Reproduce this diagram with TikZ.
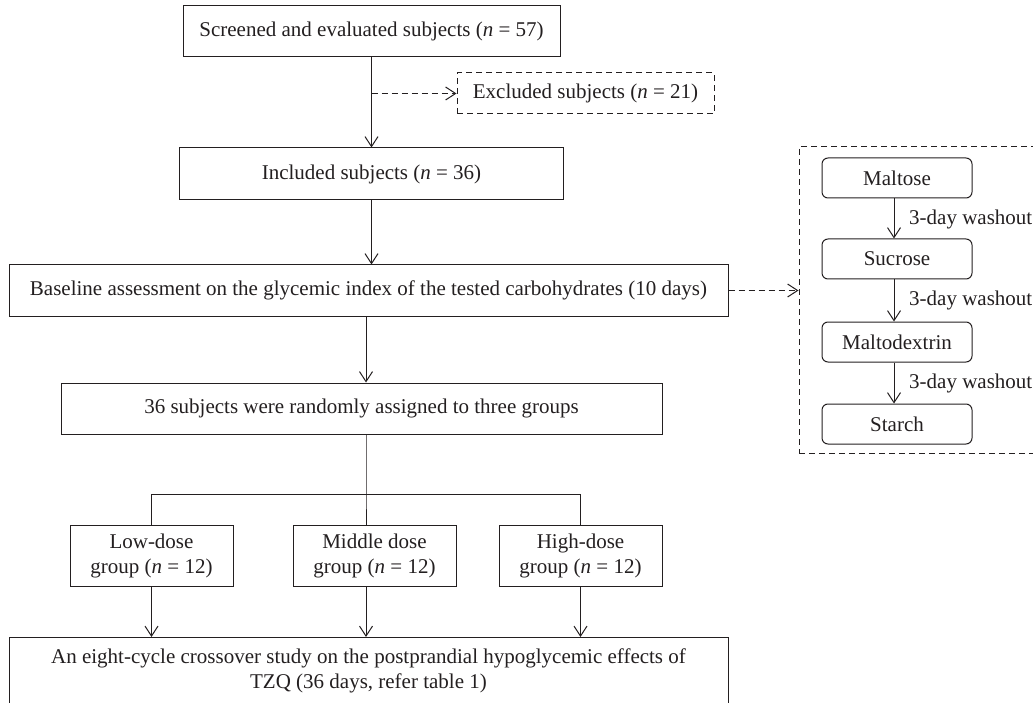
\documentclass[tikz,border=0pt]{standalone}
\usepackage{fontspec}
\setmainfont{Liberation Serif}
\usetikzlibrary{arrows.meta,calc}
\definecolor{ink}{RGB}{35,31,32}
\begin{document}
\begin{tikzpicture}[x=1pt,y=-1pt,
  every node/.style={font=\fontsize{21}{25}\selectfont, text=ink},
  box/.style={draw=ink, line width=1pt, inner sep=0pt, align=center},
  dbox/.style={box, dash pattern=on 6pt off 4pt},
  rbox/.style={box, rounded corners=6pt, minimum width=150pt, minimum height=40pt},
  gbox/.style={box, minimum width=163pt, minimum height=61pt},
  link/.style={draw=ink, line width=1pt},
  arr/.style={link, -{Straight Barb[length=10pt,width=13pt,line width=1pt]}},
  darr/.style={arr, dash pattern=on 6pt off 4pt},
  lab/.style={anchor=west, inner sep=0pt}
]
\useasboundingbox (0,0) rectangle (1033,703);
\coordinate (c) at (366,0);
% main column
\node[box, minimum width=377pt, minimum height=51pt] (s1) at (371.5,31.5) {Screened and evaluated subjects (\textit{n} = 57)};
\node[dbox, minimum width=257pt, minimum height=41pt] (excl) at (585.5,93.5) {Excluded subjects (\textit{n} = 21)};
\node[box, minimum width=384pt, minimum height=52pt] (incl) at (371.5,174) {Included subjects (\textit{n} = 36)};
\node[box, minimum width=719pt, minimum height=51pt] (base) at (368.5,290.5) {Baseline assessment on the glycemic index of the tested carbohydrates (10 days)};
\node[box, minimum width=601pt, minimum height=51pt] (rand) at (361.5,408.5) {36 subjects were randomly assigned to three groups};
\node[gbox] (low) at (151.5,555.5) {Low-dose\\group (\textit{n} = 12)};
\node[gbox] (mid) at (374.5,555.5) {Middle dose\\group (\textit{n} = 12)};
\node[gbox] (high) at (580.5,555.5) {High-dose\\group (\textit{n} = 12)};
\node[box, anchor=north, minimum width=719pt, minimum height=80pt, inner ysep=11pt, text depth=40pt] (fin) at (368.5,637) {An eight-cycle crossover study on the postprandial hypoglycemic effects of\\TZQ (36 days, refer table 1)};
% carbohydrate panel
\node[dbox, minimum width=241pt, minimum height=306pt] (carb) at (919.5,300) {};
\node[rbox] (mal) at (897,178) {Maltose};
\node[rbox] (suc) at (897,259) {Sucrose};
\node[rbox] (mdx) at (897,342) {Maltodextrin};
\node[rbox] (sta) at (897,424) {Starch};
\node[lab] (w1) at (909,219) {3-day washout};
\node[lab] (w2) at (909,300.5) {3-day washout};
\node[lab] (w3) at (909,383) {3-day washout};
% connectors
\coordinate (j) at (s1.south |- excl.west);
\draw[arr] (s1.south) -- (s1.south |- incl.north);
\draw[darr] (j) -- (excl.west);
\draw[arr] (incl.south) -- (incl.south |- base.north);
\draw[darr] (base.east) -- (base.east -| carb.west);
\draw[arr] (base.south -| c) -- (rand.north -| c);
\coordinate (br) at (366,494);
\draw[link] (rand.south -| c) -- (br) -- (mid.north -| c);
\draw[link] (low.north) -- (low.north |- br) -- (high.north |- br) -- (high.north);
\draw[arr] (low.south) -- (low.south |- fin.north);
\draw[arr] (mid.south -| c) -- (fin.north -| c);
\draw[arr] (high.south) -- (high.south |- fin.north);
\draw[arr] ([xshift=-3pt]mal.south) -- ([xshift=-3pt]suc.north);
\draw[arr] ([xshift=-3pt]suc.south) -- ([xshift=-3pt]mdx.north);
\draw[arr] ([xshift=-3pt]mdx.south) -- ([xshift=-3pt]sta.north);
\end{tikzpicture}
\end{document}
